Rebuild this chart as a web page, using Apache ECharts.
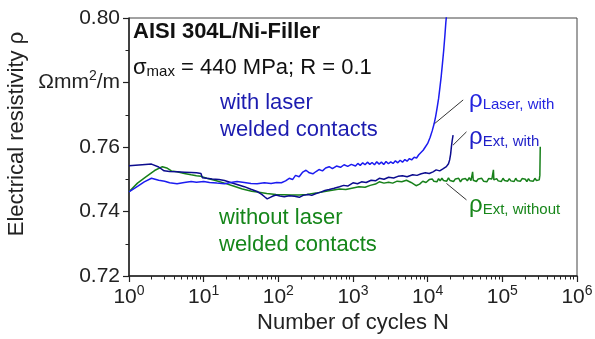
<!DOCTYPE html>
<html>
<head>
<meta charset="utf-8">
<script src="https://cdn.jsdelivr.net/npm/echarts@6/dist/echarts.min.js"></script>
<style>
  html, body { margin: 0; padding: 0; background: #fff; }
  #chart { width: 595px; height: 339px; }
</style>
</head>
<body>
<div id="chart"></div>
<script>
// rho vs. number of cycles
const laserN = [1, 1.3, 1.6, 2, 2.5, 3, 3.5, 4.4, 5.5, 6.8, 8, 10, 12, 15, 19, 23, 28, 35, 43, 52, 65, 80, 95, 110, 125, 140, 155, 170, 190, 210, 235, 260, 290, 320, 350, 390, 430, 480, 530, 600, 680, 760, 850, 950,
  1000, 1080, 1160, 1250, 1350, 1450, 1560, 1680, 1800, 1940, 2080, 2240, 2400, 2580, 2770, 2980, 3200, 3440, 3700, 3980, 4280, 4600, 4950, 5300, 5700, 6100, 6600, 7100, 7600, 8000,
  8700, 9300, 10000, 10800, 11500, 12200, 12800, 13400, 14000, 14600, 15200, 15800, 16400, 17000, 17500, 17900];
const laserRho = [0.7461, 0.7478, 0.7492, 0.7503, 0.7497, 0.7494, 0.7489, 0.7486, 0.7490, 0.7493, 0.7491, 0.7493, 0.7490, 0.7488, 0.7486, 0.7490, 0.7493, 0.7490, 0.7487, 0.7486, 0.7489, 0.7487, 0.7490, 0.7489, 0.7495, 0.7503, 0.7499, 0.7512, 0.7508, 0.7521, 0.7528, 0.7520, 0.7517, 0.7524, 0.7530, 0.7526, 0.7535, 0.7539, 0.7533, 0.7541, 0.7537, 0.7545, 0.7540, 0.7546,
  0.7546, 0.7541, 0.7549, 0.7543, 0.7551, 0.7545, 0.7553, 0.7546, 0.7552, 0.7545, 0.7554, 0.7547, 0.7553, 0.7546, 0.7555, 0.7548, 0.7554, 0.7549, 0.7557, 0.7551, 0.7559, 0.7553, 0.7561, 0.7556, 0.7564, 0.7560, 0.7568, 0.7566, 0.7576, 0.7582,
  0.7590, 0.7600, 0.7611, 0.7630, 0.7650, 0.7672, 0.7695, 0.7722, 0.7750, 0.7785, 0.7820, 0.7860, 0.7900, 0.7945, 0.7985, 0.8010];

const extWithN = [1, 1.5, 2, 2.5, 2.95, 3.5, 4.4, 5.5, 6.8, 8, 9.2, 9.6, 11, 13, 16, 19, 23, 28, 35, 43, 52, 60, 66, 71, 78, 85, 93, 105, 120, 140, 165, 191, 215, 250, 280, 321, 370, 420, 480, 560, 660, 750, 850, 1000, 1150, 1300, 1500, 1750, 2000, 2250, 2600, 3000, 3500, 4000, 4600, 5300, 6300, 7200, 8200, 9300, 10500, 11800, 13000, 14500, 16000, 17800, 19000, 19700, 20300, 20800, 21300, 21900];
const extWithRho = [0.7542, 0.7545, 0.7547, 0.7538, 0.7526, 0.7524, 0.7523, 0.7522, 0.7521, 0.7520, 0.7518, 0.7505, 0.7503, 0.7501, 0.7499, 0.7496, 0.7490, 0.7484, 0.7477, 0.7469, 0.7462, 0.7453, 0.7445, 0.7439, 0.7444, 0.7448, 0.7451, 0.7448, 0.7446, 0.7449, 0.7447, 0.7444, 0.7450, 0.7453, 0.7450, 0.7456, 0.7460, 0.7465, 0.7468, 0.7472, 0.7477, 0.7481, 0.7479, 0.7489, 0.7486, 0.7492, 0.7490, 0.7497, 0.7495, 0.7503, 0.7500, 0.7506, 0.7504, 0.7509, 0.7511, 0.7508, 0.7514, 0.7512, 0.7517, 0.7520, 0.7518, 0.7523, 0.7529, 0.7526, 0.7532, 0.7539, 0.7548, 0.7560, 0.7578, 0.7601, 0.7620, 0.7637];

const extWithoutN = [1, 1.3, 1.7, 2.2, 2.8, 3.2, 3.7, 4.4, 5.5, 6.8, 8, 9.2, 11, 14, 19, 25, 33, 44, 55, 70, 93, 120, 150, 191, 240, 321, 400, 500, 660, 800, 1000, 1200, 1450, 1700, 2000, 2250, 2600, 3000, 3400, 3900, 4500, 5200, 6000, 7000, 7800, 8600, 9500,
  10000, 10500, 11000, 11500, 12100, 12700, 13300, 14000, 14700, 15500, 16300, 17000, 18000, 19000, 20000, 21000, 22200, 23500, 24800, 26000, 27500, 29000, 30500, 32000, 34000, 36000, 38000, 40000, 40800, 42500, 45000, 47500, 50000, 53000, 56000, 59000, 62000, 65500, 69000, 72500, 76000, 77000, 80000, 84000, 88000, 92000, 97000, 102000, 107000, 112000, 118000, 124000, 130000, 137000, 144000, 151000, 159000, 167000, 175000, 184000, 193000, 203000, 213000, 224000, 235000, 247000, 260000, 273000, 287000, 301000, 312000, 318000, 322000];
const extWithoutRho = [0.7461, 0.7488, 0.7508, 0.7527, 0.7539, 0.7535, 0.7526, 0.7523, 0.7518, 0.7514, 0.7511, 0.7509, 0.7503, 0.7497, 0.7488, 0.7479, 0.7470, 0.7463, 0.7460, 0.7456, 0.7453, 0.7452, 0.7451, 0.7451, 0.7453, 0.7457, 0.7461, 0.7465, 0.7470, 0.7468, 0.7473, 0.7477, 0.7475, 0.7481, 0.7485, 0.7492, 0.7488, 0.7491, 0.7488, 0.7494, 0.7492, 0.7497, 0.7490, 0.7480, 0.7485, 0.7494, 0.7490,
  0.7490, 0.7499, 0.7493, 0.7501, 0.7494, 0.7500, 0.7492, 0.7502, 0.7495, 0.7503, 0.7496, 0.7501, 0.7494, 0.7504, 0.7496, 0.7502, 0.7493, 0.7501, 0.7495, 0.7503, 0.7492, 0.7500, 0.7494, 0.7502, 0.7495, 0.7505, 0.7496, 0.7523, 0.7497, 0.7502, 0.7493, 0.7501, 0.7495, 0.7503, 0.7494, 0.7500, 0.7492, 0.7502, 0.7496, 0.7501, 0.7529, 0.7498, 0.7493, 0.7502, 0.7495, 0.7500, 0.7493, 0.7503, 0.7496, 0.7501, 0.7494, 0.7502, 0.7495, 0.7500, 0.7493, 0.7503, 0.7495, 0.7501, 0.7494, 0.7502, 0.7496, 0.7500, 0.7493, 0.7502, 0.7495, 0.7501, 0.7494, 0.7503, 0.7496, 0.7500, 0.7498, 0.7512, 0.7601];

// axis ticks / labels
const xTickValues = [1, 10, 100, 1000, 10000, 100000, 1000000];
const xTickExps = ['0', '1', '2', '3', '4', '5', '6'];
const xMinorSteps = [2, 3, 4, 5, 6, 7, 8, 9];
const yTickValues = ['0.72', '0.74', '0.76', '0.78', '0.80'];
const yTickLabels = ['0.72', '0.74', '0.76', '{t|Ωmm}{e|2}{t|/m}', '0.80'];

// leader lines from labels to curves [N, rho]
const laserLeader = [[29900, 0.7746], [12450, 0.7673]];
const extWithLeader = [[33100, 0.7647], [21900, 0.7606]];
const extWithoutLeader = [[17860, 0.7487], [33100, 0.7436]];

const FONT = 'Liberation Sans, Arial, sans-serif';

const xMinorTicks = [];
xTickValues.slice(0, -1).forEach(d => xMinorSteps.forEach(m => xMinorTicks.push(d * m)));

const pairs = (xs, ys) => xs.map((x, i) => [x, ys[i]]);
const leader = pts => ({
  symbol: 'none',
  silent: true,
  animation: false,
  label: { show: false },
  lineStyle: { color: '#333', width: 1, type: 'solid' },
  data: [[{ coord: pts[0] }, { coord: pts[1] }]]
});

const chart = echarts.init(document.getElementById('chart'));

chart.setOption({
  animation: false,
  grid: {
    left: 129, right: 18, top: 18, bottom: 63,
    containLabel: false,
    outerBoundsMode: 'none',
    show: true,
    borderColor: '#444',
    borderWidth: 1
  },
  xAxis: [
    {
      type: 'log',
      logBase: 10,
      min: 1,
      max: 1000000,
      name: 'Number of cycles N',
      nameLocation: 'middle',
      nameGap: 34,
      nameTextStyle: { fontFamily: FONT, fontSize: 22, color: '#222' },
      axisLine: { lineStyle: { color: '#222', width: 1.5 } },
      axisTick: { customValues: xTickValues, length: 6, lineStyle: { color: '#222', width: 1.2 } },
      axisLabel: {
        customValues: xTickValues,
        margin: 8,
        formatter: v => '{b|10}{e|' + xTickExps[xTickValues.indexOf(v)] + '}',
        rich: {
          b: { fontFamily: FONT, fontSize: 21, color: '#222', lineHeight: 26 },
          e: { fontFamily: FONT, fontSize: 14, color: '#222', lineHeight: 14, verticalAlign: 'top' }
        }
      },
      splitLine: { show: false }
    },
    {
      type: 'log',
      logBase: 10,
      min: 1,
      max: 1000000,
      position: 'bottom',
      axisLine: { show: false },
      axisTick: { customValues: xMinorTicks, length: 3.5, lineStyle: { color: '#222', width: 1 } },
      axisLabel: { show: false },
      splitLine: { show: false }
    }
  ],
  yAxis: {
    type: 'value',
    min: 0.72,
    max: 0.80,
    interval: 0.02,
    axisLine: { show: true, lineStyle: { color: '#222', width: 1.5 } },
    axisTick: { show: true, length: 6, lineStyle: { color: '#222', width: 1.2 } },
    minorTick: { show: true, splitNumber: 2, length: 3.5, lineStyle: { color: '#222', width: 1 } },
    axisLabel: {
      margin: 9,
      fontFamily: FONT,
      fontSize: 21,
      color: '#222',
      formatter: v => yTickLabels[yTickValues.indexOf(v.toFixed(2))],
      rich: {
        t: { fontFamily: FONT, fontSize: 21, color: '#222', lineHeight: 26 },
        e: { fontFamily: FONT, fontSize: 14, color: '#222', lineHeight: 14, verticalAlign: 'top' }
      }
    },
    splitLine: { show: false }
  },
  series: [
    {
      name: 'rho Ext, without',
      type: 'line',
      showSymbol: false,
      symbol: 'none',
      data: pairs(extWithoutN, extWithoutRho),
      lineStyle: { color: '#17801a', width: 1.5 },
      markLine: leader(extWithoutLeader)
    },
    {
      name: 'rho Ext, with',
      type: 'line',
      showSymbol: false,
      symbol: 'none',
      data: pairs(extWithN, extWithRho),
      lineStyle: { color: '#0c0c8e', width: 1.5 },
      markLine: leader(extWithLeader)
    },
    {
      name: 'rho Laser, with',
      type: 'line',
      showSymbol: false,
      symbol: 'none',
      data: pairs(laserN, laserRho),
      lineStyle: { color: '#1c1cf0', width: 1.5 },
      markLine: leader(laserLeader)
    }
  ],
  graphic: [
    {
      type: 'text', x: 17, y: 134, rotation: Math.PI / 2,
      style: { text: 'Electrical resistivity ρ', font: '22px ' + FONT, fill: '#222', align: 'center', verticalAlign: 'middle' }
    },
    {
      type: 'text', x: 133, y: 32,
      style: { text: 'AISI 304L/Ni-Filler', font: 'bold 22px ' + FONT, fill: '#111', verticalAlign: 'middle' }
    },
    {
      type: 'text', x: 133, y: 66,
      style: {
        text: '{t|σ}{s|max}{t| = 440 MPa; R = 0.1}',
        verticalAlign: 'middle',
        rich: {
          t: { fontFamily: FONT, fontSize: 22, fill: '#111', lineHeight: 26, verticalAlign: 'bottom' },
          s: { fontFamily: FONT, fontSize: 15, fill: '#111', lineHeight: 15, verticalAlign: 'bottom' }
        }
      }
    },
    {
      type: 'text', x: 220, y: 116,
      style: { text: 'with laser\nwelded contacts', font: '22px ' + FONT, fill: '#1c1cb0', lineHeight: 27, verticalAlign: 'middle' }
    },
    {
      type: 'text', x: 219, y: 231,
      style: { text: 'without laser\nwelded contacts', font: '22px ' + FONT, fill: '#15861a', lineHeight: 27, verticalAlign: 'middle' }
    },
    {
      type: 'text', x: 469, y: 99,
      style: {
        text: '{r|ρ}{s|Laser, with}',
        verticalAlign: 'middle',
        rich: {
          r: { fontFamily: FONT, fontSize: 24, fill: '#2424e0', lineHeight: 26, verticalAlign: 'bottom' },
          s: { fontFamily: FONT, fontSize: 15, fill: '#2424e0', lineHeight: 15, verticalAlign: 'bottom' }
        }
      }
    },
    {
      type: 'text', x: 469, y: 136,
      style: {
        text: '{r|ρ}{s|Ext, with}',
        verticalAlign: 'middle',
        rich: {
          r: { fontFamily: FONT, fontSize: 24, fill: '#1e1ec8', lineHeight: 26, verticalAlign: 'bottom' },
          s: { fontFamily: FONT, fontSize: 15, fill: '#1e1ec8', lineHeight: 15, verticalAlign: 'bottom' }
        }
      }
    },
    {
      type: 'text', x: 469, y: 204,
      style: {
        text: '{r|ρ}{s|Ext, without}',
        verticalAlign: 'middle',
        rich: {
          r: { fontFamily: FONT, fontSize: 24, fill: '#17861a', lineHeight: 26, verticalAlign: 'bottom' },
          s: { fontFamily: FONT, fontSize: 15, fill: '#17861a', lineHeight: 15, verticalAlign: 'bottom' }
        }
      }
    }
  ]
});
</script>
</body>
</html>
